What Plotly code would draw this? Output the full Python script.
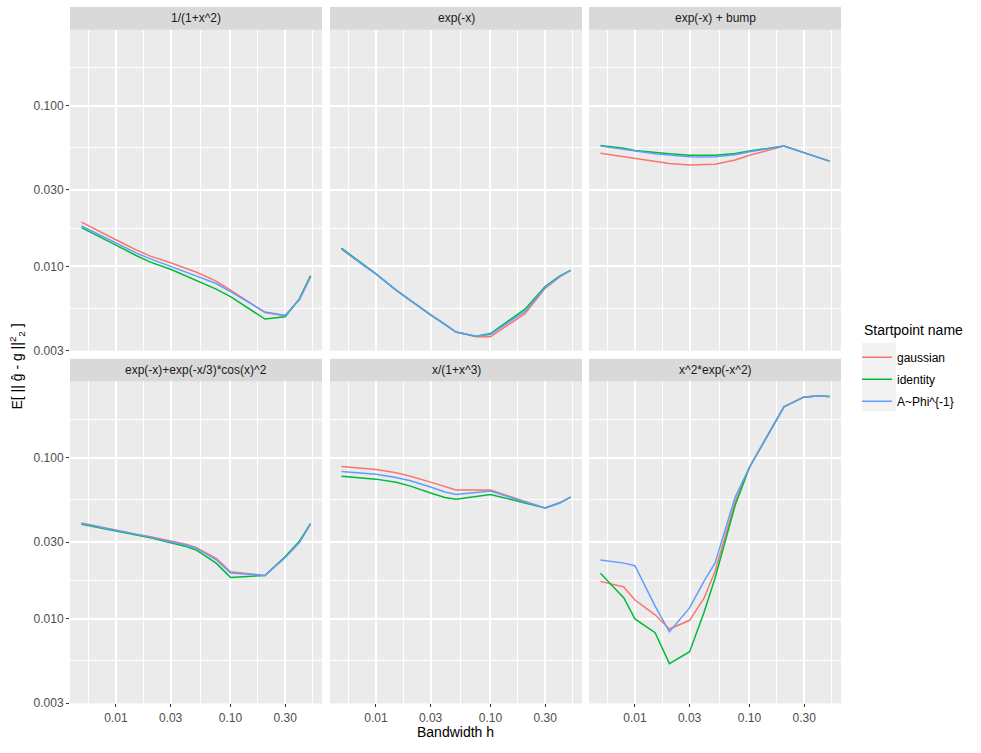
import numpy as np
import plotly.graph_objects as go

# bandwidth grid (x)
bandwidth = [0.005, 0.008, 0.01, 0.015, 0.02, 0.03, 0.04, 0.05, 0.075, 0.1, 0.2, 0.3, 0.4, 0.5]

facet_names = ["1/(1+x^2)", "exp(-x)", "exp(-x) + bump",
               "exp(-x)+exp(-x/3)*cos(x)^2", "x/(1+x^3)", "x^2*exp(-x^2)"]
start_names = ["gaussian", "identity", "A~Phi^{-1}"]
start_colors = ["#F8766D", "#00BA38", "#619CFF"]

# 1/(1+x^2)
f1_gaussian = [0.0189, 0.0158, 0.01466, 0.01268, 0.01159, 0.01055, 0.00978, 0.00924, 0.0081, 0.00713, 0.00517, 0.00494, 0.00628, 0.00873]
f1_identity = [0.01746, 0.01479, 0.01359, 0.0117, 0.01064, 0.0096, 0.0088, 0.0082, 0.00723, 0.00649, 0.0047, 0.00486, 0.00628, 0.00873]
f1_aphi = [0.01786, 0.01517, 0.0140, 0.01214, 0.01114, 0.01004, 0.00932, 0.00873, 0.00783, 0.00697, 0.0052, 0.00494, 0.0062, 0.0086]

# exp(-x)
f2_gaussian = [0.0128, 0.0100, 0.0090, 0.00713, 0.00613, 0.0050, 0.00435, 0.0039, 0.00365, 0.00365, 0.00508, 0.0073, 0.0086, 0.00946]
f2_identity = [0.0130, 0.0101, 0.0090, 0.00713, 0.00613, 0.0050, 0.00435, 0.0039, 0.00368, 0.00382, 0.00542, 0.0075, 0.0087, 0.00946]
f2_aphi = [0.01285, 0.0100, 0.0090, 0.00713, 0.00613, 0.0050, 0.00435, 0.0039, 0.00368, 0.00377, 0.00525, 0.0074, 0.0086, 0.00946]

# exp(-x) + bump
f3_gaussian = [0.0507, 0.0482, 0.0470, 0.0450, 0.0438, 0.0428, 0.0429, 0.0434, 0.0460, 0.0493, 0.0562, 0.0512, 0.0475, 0.0453]
f3_identity = [0.0568, 0.0545, 0.0528, 0.0512, 0.0504, 0.0493, 0.0492, 0.0493, 0.0505, 0.0525, 0.0562, 0.0512, 0.0475, 0.0453]
f3_aphi = [0.0562, 0.0538, 0.0522, 0.0503, 0.0495, 0.0482, 0.0481, 0.0482, 0.0497, 0.0518, 0.0562, 0.0512, 0.0475, 0.0453]

# exp(-x)+exp(-x/3)*cos(x)^2
f4_gaussian = [0.0394, 0.0367, 0.0356, 0.0336, 0.0324, 0.0304, 0.0292, 0.0278, 0.0238, 0.0196, 0.0186, 0.0243, 0.0301, 0.0391]
f4_identity = [0.0387, 0.0362, 0.0351, 0.0331, 0.0319, 0.0297, 0.0283, 0.0268, 0.0222, 0.0181, 0.0186, 0.0243, 0.0304, 0.0391]
f4_aphi = [0.0391, 0.0365, 0.0354, 0.0334, 0.0322, 0.0300, 0.0289, 0.0275, 0.0233, 0.0193, 0.0186, 0.0240, 0.0298, 0.0388]

# x/(1+x^3)
f5_gaussian = [0.0883, 0.0863, 0.0847, 0.0808, 0.0770, 0.0707, 0.0659, 0.0631, 0.0631, 0.0631, 0.0537, 0.0489, 0.0524, 0.0571]
f5_identity = [0.0770, 0.0752, 0.0738, 0.0705, 0.0668, 0.0605, 0.0567, 0.0553, 0.0574, 0.0593, 0.0525, 0.0489, 0.0524, 0.0571]
f5_aphi = [0.0823, 0.0804, 0.0792, 0.0755, 0.0721, 0.0659, 0.0614, 0.0593, 0.0608, 0.0622, 0.0532, 0.0489, 0.0524, 0.0571]

# x^2*exp(-x^2)
f6_gaussian = [0.0171, 0.0158, 0.0131, 0.0106, 0.00865, 0.0098, 0.0134, 0.0197, 0.0532, 0.0875, 0.2075, 0.2393, 0.2427, 0.241]
f6_identity = [0.0192, 0.0135, 0.0100, 0.0082, 0.00527, 0.00625, 0.0109, 0.0179, 0.0508, 0.0875, 0.2075, 0.2393, 0.2427, 0.241]
f6_aphi = [0.0232, 0.0222, 0.0214, 0.0120, 0.00832, 0.0117, 0.0171, 0.0222, 0.0571, 0.0875, 0.2075, 0.2393, 0.2427, 0.241]

facet_data = [
    [f1_gaussian, f1_identity, f1_aphi],
    [f2_gaussian, f2_identity, f2_aphi],
    [f3_gaussian, f3_identity, f3_aphi],
    [f4_gaussian, f4_identity, f4_aphi],
    [f5_gaussian, f5_identity, f5_aphi],
    [f6_gaussian, f6_identity, f6_aphi],
]

x_breaks = [0.01, 0.03, 0.1, 0.3]
x_labels = ["0.01", "0.03", "0.10", "0.30"]
y_breaks = [0.003, 0.01, 0.03, 0.1, 0.3]
y_labels = ["0.003", "0.010", "0.030", "0.100", "0.300"]

def minor_breaks(majors):
    # ggplot-style minor breaks: midpoints in log space
    lg = np.log10(majors)
    mids = (lg[:-1] + lg[1:]) / 2
    return list(10 ** np.concatenate([[lg[0] - (mids[0] - lg[0])], mids, [lg[-1] + (lg[-1] - mids[-1])]]))

W, H = 981, 753
col_px = [(70, 322), (330, 582), (589, 841)]
row_px = [(30, 354), (385, 710)]
strip_h = 23
font = "Liberation Sans, Arial, Helvetica, sans-serif"

fig = go.Figure()

for i, name in enumerate(facet_names):
    s = "" if i == 0 else str(i + 1)
    for j, start in enumerate(start_names):
        fig.add_trace(go.Scatter(
            x=bandwidth, y=facet_data[i][j], mode="lines", name=start,
            line=dict(color=start_colors[j], width=1.5),
            xaxis="x" + s, yaxis="y" + s,
            legendgroup=start, showlegend=(i == 0),
        ))

layout = {}
shapes = []
annotations = []
for i, name in enumerate(facet_names):
    s = "" if i == 0 else str(i + 1)
    r, c = divmod(i, 3)
    x0, x1 = col_px[c]
    y0, y1 = row_px[r]
    layout["xaxis" + s] = dict(
        type="log", domain=[x0 / W, x1 / W], anchor="y" + s,
        range=[np.log10(0.005) - 0.1, np.log10(0.5) + 0.1],
        tickvals=x_breaks, ticktext=x_labels,
        showticklabels=(r == 1), ticks="outside" if r == 1 else "",
        ticklen=3, tickcolor="#333333", tickfont=dict(size=12, color="#4D4D4D"),
        showgrid=True, gridcolor="white", gridwidth=2, zeroline=False, showline=False,
        minor=dict(tickvals=minor_breaks(x_breaks), showgrid=True, gridcolor="white", gridwidth=1, ticks=""),
    )
    layout["yaxis" + s] = dict(
        type="log", domain=[1 - y1 / H, 1 - y0 / H], anchor="x" + s,
        range=[-2.525, -0.525],
        tickvals=y_breaks, ticktext=y_labels,
        showticklabels=(c == 0), ticks="outside" if c == 0 else "",
        ticklen=3, tickcolor="#333333", tickfont=dict(size=12, color="#4D4D4D"),
        showgrid=True, gridcolor="white", gridwidth=2, zeroline=False, showline=False,
        minor=dict(tickvals=minor_breaks(y_breaks), showgrid=True, gridcolor="white", gridwidth=1, ticks=""),
    )
    # facet strip
    shapes.append(dict(type="rect", xref="paper", yref="paper", layer="below",
                       x0=x0 / W, x1=x1 / W, y0=1 - y0 / H, y1=1 - (y0 - strip_h) / H,
                       fillcolor="#D9D9D9", line=dict(width=0)))
    annotations.append(dict(text=name, xref="paper", yref="paper", showarrow=False,
                            x=(x0 + x1) / 2 / W, y=1 - (y0 - strip_h / 2) / H,
                            xanchor="center", yanchor="middle",
                            font=dict(size=12, color="#1A1A1A")))

# legend key background
shapes.append(dict(type="rect", xref="paper", yref="paper", layer="below",
                   x0=862 / W, x1=896 / W, y0=1 - 415 / H, y1=1 - 346 / H,
                   fillcolor="#F2F2F2", line=dict(width=0)))

annotations.append(dict(text="Bandwidth h", xref="paper", yref="paper", showarrow=False,
                        x=455.5 / W, y=1 - 739 / H, xanchor="center", yanchor="middle",
                        font=dict(size=14, color="black")))
annotations.append(dict(text="E[ || ĝ - g ||<sup>2</sup><sub>2</sub> ]", xref="paper", yref="paper",
                        showarrow=False, textangle=-90,
                        x=17 / W, y=1 - 370 / H, xanchor="center", yanchor="middle",
                        font=dict(size=14, color="black")))
annotations.append(dict(text="Startpoint name", xref="paper", yref="paper", showarrow=False,
                        x=862 / W, y=1 - 333 / H, xanchor="left", yanchor="middle",
                        font=dict(size=14, color="black")))

fig.update_layout(
    width=W, height=H,
    margin=dict(l=0, r=0, t=0, b=0),
    paper_bgcolor="white", plot_bgcolor="#EBEBEB",
    font=dict(family=font),
    shapes=shapes, annotations=annotations,
    legend=dict(
        x=857 / W, y=1 - 346 / H, xanchor="left", yanchor="top",
        bgcolor="rgba(0,0,0,0)", font=dict(size=12, color="black"),
        tracegroupgap=3,
    ),
    **layout,
)

fig.write_html("out.html", post_script="document.body.style.margin='0';",
               config={"displayModeBar": False})
